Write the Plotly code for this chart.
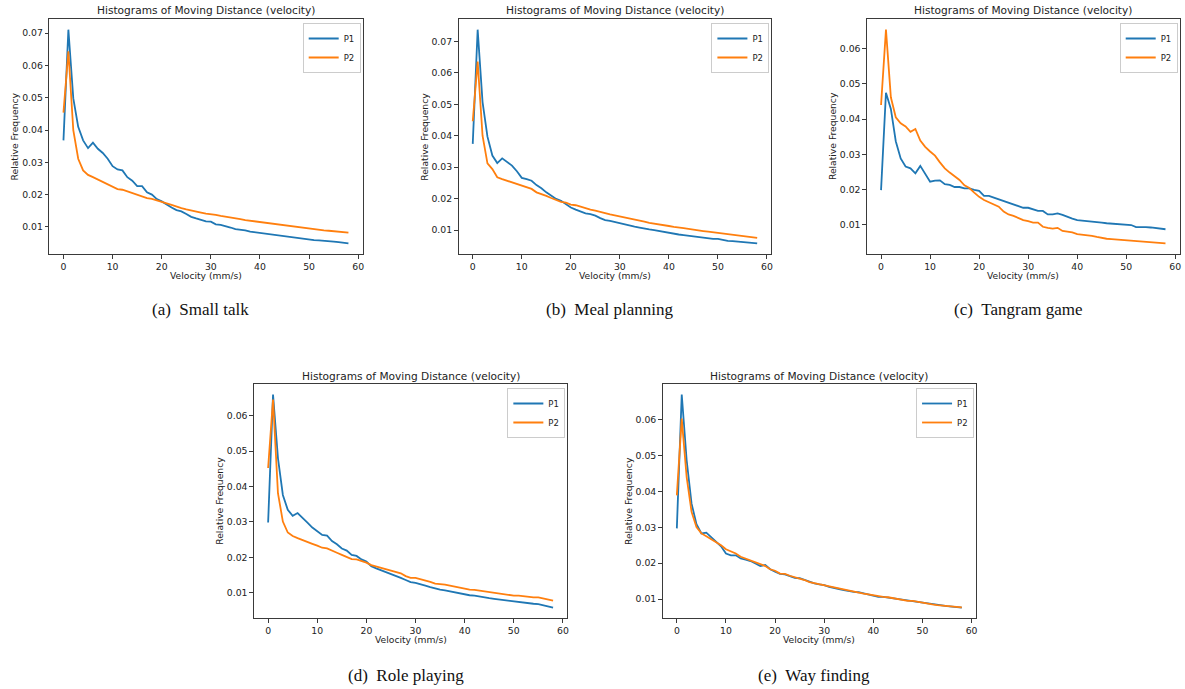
import plotly.graph_objects as go

velocity = list(range(59))

small_talk_p1 = [0.0368, 0.0711, 0.0498, 0.0410, 0.0368, 0.0344, 0.0361, 0.0342, 0.0329, 0.0311,
                 0.0288, 0.0278, 0.0275, 0.0254, 0.0243, 0.0226, 0.0226, 0.0207, 0.0200, 0.0186,
                 0.0179, 0.0169, 0.0160, 0.0152, 0.0148, 0.0140, 0.0131, 0.0126, 0.0121, 0.0117,
                 0.0116, 0.0108, 0.0106, 0.0103, 0.0098, 0.0093, 0.0092, 0.0089, 0.0085, 0.0083,
                 0.0079, 0.0077, 0.0075, 0.0074, 0.0072, 0.0071, 0.0069, 0.0066, 0.0065, 0.0063,
                 0.0060, 0.0059, 0.0058, 0.0056, 0.0055, 0.0054, 0.0053, 0.0051, 0.0049]
small_talk_p2 = [0.0454, 0.0644, 0.0400, 0.0311, 0.0275, 0.0261, 0.0254, 0.0247, 0.0240, 0.0233,
                 0.0225, 0.0217, 0.0215, 0.0210, 0.0204, 0.0198, 0.0194, 0.0189, 0.0187, 0.0183,
                 0.0177, 0.0173, 0.0168, 0.0162, 0.0158, 0.0154, 0.0150, 0.0148, 0.0144, 0.0141,
                 0.0140, 0.0137, 0.0134, 0.0132, 0.0130, 0.0127, 0.0124, 0.0121, 0.0119, 0.0116,
                 0.0114, 0.0113, 0.0111, 0.0108, 0.0105, 0.0103, 0.0101, 0.0100, 0.0098, 0.0095,
                 0.0094, 0.0093, 0.0091, 0.0089, 0.0088, 0.0086, 0.0086, 0.0084, 0.0082]

meal_p1 = [0.0374, 0.0737, 0.0507, 0.0397, 0.0337, 0.0313, 0.0328, 0.0316, 0.0305, 0.0287,
           0.0266, 0.0262, 0.0257, 0.0243, 0.0233, 0.0220, 0.0209, 0.0199, 0.0193, 0.0183,
           0.0172, 0.0165, 0.0159, 0.0153, 0.0151, 0.0146, 0.0138, 0.0132, 0.0129, 0.0125,
           0.0123, 0.0118, 0.0115, 0.0111, 0.0108, 0.0104, 0.0102, 0.0100, 0.0097, 0.0094,
           0.0090, 0.0088, 0.0086, 0.0084, 0.0082, 0.0080, 0.0078, 0.0076, 0.0073, 0.0072,
           0.0072, 0.0068, 0.0066, 0.0065, 0.0064, 0.0063, 0.0061, 0.0059, 0.0058]
meal_p2 = [0.0446, 0.0636, 0.0400, 0.0312, 0.0294, 0.0268, 0.0262, 0.0257, 0.0252, 0.0247,
           0.0241, 0.0236, 0.0231, 0.0220, 0.0215, 0.0209, 0.0202, 0.0196, 0.0190, 0.0187,
           0.0181, 0.0179, 0.0174, 0.0169, 0.0165, 0.0162, 0.0157, 0.0154, 0.0150, 0.0147,
           0.0142, 0.0139, 0.0136, 0.0133, 0.0131, 0.0127, 0.0123, 0.0121, 0.0117, 0.0116,
           0.0113, 0.0110, 0.0107, 0.0106, 0.0104, 0.0101, 0.0099, 0.0097, 0.0095, 0.0093,
           0.0090, 0.0088, 0.0085, 0.0083, 0.0082, 0.0080, 0.0078, 0.0077, 0.0075]

tangram_p1 = [0.0198, 0.0475, 0.0429, 0.0337, 0.0288, 0.0265, 0.0260, 0.0246, 0.0267, 0.0245,
              0.0222, 0.0225, 0.0226, 0.0215, 0.0213, 0.0207, 0.0207, 0.0203, 0.0203, 0.0199,
              0.0196, 0.0182, 0.0182, 0.0177, 0.0172, 0.0169, 0.0163, 0.0158, 0.0153, 0.0148,
              0.0148, 0.0144, 0.0139, 0.0139, 0.0129, 0.0129, 0.0132, 0.0128, 0.0122, 0.0117,
              0.0113, 0.0112, 0.0110, 0.0109, 0.0109, 0.0106, 0.0104, 0.0103, 0.0103, 0.0101,
              0.0099, 0.0099, 0.0093, 0.0094, 0.0093, 0.0092, 0.0090, 0.0089, 0.0087]
tangram_p2 = [0.0440, 0.0654, 0.0462, 0.0405, 0.0388, 0.0379, 0.0364, 0.0372, 0.0339, 0.0321,
              0.0308, 0.0296, 0.0277, 0.0260, 0.0248, 0.0237, 0.0227, 0.0212, 0.0204, 0.0191,
              0.0179, 0.0170, 0.0163, 0.0158, 0.0151, 0.0137, 0.0129, 0.0125, 0.0118, 0.0113,
              0.0110, 0.0106, 0.0106, 0.0094, 0.0091, 0.0089, 0.0091, 0.0082, 0.0080, 0.0078,
              0.0073, 0.0072, 0.0070, 0.0068, 0.0065, 0.0062, 0.0060, 0.0059, 0.0058, 0.0057,
              0.0056, 0.0054, 0.0054, 0.0052, 0.0050, 0.0049, 0.0048, 0.0048, 0.0047]

role_p1 = [0.0298, 0.0659, 0.0480, 0.0376, 0.0334, 0.0317, 0.0325, 0.0310, 0.0298, 0.0284,
           0.0273, 0.0263, 0.0261, 0.0246, 0.0237, 0.0225, 0.0219, 0.0207, 0.0204, 0.0194,
           0.0188, 0.0175, 0.0169, 0.0164, 0.0159, 0.0153, 0.0147, 0.0142, 0.0136, 0.0130,
           0.0128, 0.0125, 0.0120, 0.0116, 0.0112, 0.0109, 0.0107, 0.0104, 0.0101, 0.0098,
           0.0095, 0.0093, 0.0092, 0.0089, 0.0087, 0.0085, 0.0083, 0.0081, 0.0079, 0.0077,
           0.0075, 0.0074, 0.0072, 0.0070, 0.0069, 0.0068, 0.0065, 0.0062, 0.0058]
role_p2 = [0.0452, 0.0645, 0.0381, 0.0301, 0.0270, 0.0260, 0.0254, 0.0248, 0.0242, 0.0238,
           0.0233, 0.0227, 0.0225, 0.0218, 0.0213, 0.0207, 0.0200, 0.0195, 0.0194, 0.0190,
           0.0185, 0.0178, 0.0174, 0.0169, 0.0166, 0.0161, 0.0158, 0.0155, 0.0147, 0.0142,
           0.0142, 0.0139, 0.0136, 0.0131, 0.0126, 0.0125, 0.0123, 0.0120, 0.0117, 0.0114,
           0.0111, 0.0109, 0.0108, 0.0106, 0.0104, 0.0102, 0.0099, 0.0098, 0.0097, 0.0095,
           0.0092, 0.0092, 0.0090, 0.0089, 0.0087, 0.0087, 0.0084, 0.0081, 0.0078]

way_p1 = [0.0297, 0.0670, 0.0487, 0.0366, 0.0309, 0.0283, 0.0285, 0.0273, 0.0260, 0.0247,
          0.0227, 0.0222, 0.0222, 0.0213, 0.0210, 0.0206, 0.0199, 0.0192, 0.0195, 0.0183,
          0.0176, 0.0170, 0.0169, 0.0164, 0.0159, 0.0158, 0.0153, 0.0148, 0.0144, 0.0141,
          0.0139, 0.0134, 0.0132, 0.0128, 0.0125, 0.0122, 0.0120, 0.0119, 0.0116, 0.0113,
          0.0109, 0.0106, 0.0106, 0.0104, 0.0102, 0.0099, 0.0096, 0.0094, 0.0094, 0.0091,
          0.0088, 0.0086, 0.0084, 0.0082, 0.0081, 0.0080, 0.0079, 0.0078, 0.0076]
way_p2 = [0.0389, 0.0603, 0.0440, 0.0343, 0.0301, 0.0283, 0.0275, 0.0267, 0.0258, 0.0250,
          0.0239, 0.0234, 0.0227, 0.0218, 0.0213, 0.0209, 0.0202, 0.0197, 0.0192, 0.0183,
          0.0179, 0.0171, 0.0170, 0.0165, 0.0161, 0.0158, 0.0153, 0.0147, 0.0144, 0.0141,
          0.0139, 0.0134, 0.0132, 0.0129, 0.0125, 0.0122, 0.0119, 0.0118, 0.0115, 0.0113,
          0.0110, 0.0108, 0.0106, 0.0105, 0.0102, 0.0100, 0.0097, 0.0095, 0.0095, 0.0092,
          0.0089, 0.0087, 0.0085, 0.0083, 0.0082, 0.0081, 0.0079, 0.0078, 0.0077]

series_names = ["P1", "P2"]
captions = ["(a)\u2002Small talk", "(b)\u2002Meal planning", "(c)\u2002Tangram game",
            "(d)\u2002Role playing", "(e)\u2002Way finding"]
chart_title = "Histograms of Moving Distance (velocity)"
x_label = "Velocity (mm/s)"
y_label = "Relative Frequency"
x_ticks = [0, 10, 20, 30, 40, 50, 60]

panels = [
    (small_talk_p1, small_talk_p2),
    (meal_p1, meal_p2),
    (tangram_p1, tangram_p2),
    (role_p1, role_p2),
    (way_p1, way_p2),
]

W, H = 1185, 689
# axes boxes in pixels: (left, right, top, bottom)
boxes = [
    (49.3, 363.3, 19, 254),
    (459.3, 772.7, 19, 254),
    (868.3, 1181.7, 19, 254),
    (254.3, 568.3, 384, 618.3),
    (663.7, 977.7, 384, 618.3),
]
ylabel_x = [15, 425, 834, 220, 629]
caption_y = [309, 309, 309, 675, 675]

blue = "#1f77b4"
orange = "#ff7f0e"
spine = "#3a3a3a"
font_family = "DejaVu Sans"

fig = go.Figure()
layout = dict(
    width=W, height=H,
    margin=dict(l=0, r=0, t=0, b=0),
    paper_bgcolor="white", plot_bgcolor="white",
    font=dict(family=font_family, size=9, color="#222"),
    annotations=[],
)

for i, ((p1, p2), (l, r, t, b)) in enumerate(zip(panels, boxes)):
    n = i + 1
    xa = "x" if n == 1 else f"x{n}"
    ya = "y" if n == 1 else f"y{n}"
    leg = "legend" if n == 1 else f"legend{n}"
    for vals, name, col in ((p1, series_names[0], blue), (p2, series_names[1], orange)):
        fig.add_trace(go.Scatter(
            x=velocity, y=vals, mode="lines", name=name,
            line=dict(color=col, width=1.8),
            xaxis=xa, yaxis=ya, legend=leg,
        ))
    allv = list(p1) + list(p2)
    lo, hi = min(allv), max(allv)
    pad = 0.05 * (hi - lo)
    xlo, xhi = min(velocity), max(velocity)
    xpad = 0.05 * (xhi - xlo)
    axis_common = dict(
        showline=True, mirror=True, linecolor=spine, linewidth=1,
        ticks="outside", ticklen=3.5, tickwidth=1, tickcolor=spine,
        showgrid=False, zeroline=False,
        tickfont=dict(family=font_family, size=9.3, color="#222"),
    )
    layout["xaxis" if n == 1 else f"xaxis{n}"] = dict(
        domain=[l / W, r / W], anchor=ya,
        range=[xlo - xpad, xhi + xpad],
        tickmode="array", tickvals=x_ticks,
        **axis_common,
    )
    layout["yaxis" if n == 1 else f"yaxis{n}"] = dict(
        domain=[1 - b / H, 1 - t / H], anchor=xa,
        range=[lo - pad, hi + pad],
        dtick=0.01, tick0=0, tickformat=".2f",
        **axis_common,
    )
    layout[leg] = dict(
        x=(r - 2) / W, y=1 - (t + 4) / H, xanchor="right", yanchor="top",
        bgcolor="rgba(255,255,255,0.9)", bordercolor="#cccccc", borderwidth=1,
        font=dict(family=font_family, size=8.5, color="#222"),
        itemwidth=30, tracegroupgap=0,
    )
    cx = (l + r) / 2
    layout["annotations"] += [
        dict(text=chart_title, x=cx / W, y=1 - (t - 8.5) / H, xref="paper", yref="paper",
             showarrow=False, xanchor="center", yanchor="middle",
             font=dict(family=font_family, size=10.6, color="#222")),
        dict(text=x_label, x=cx / W, y=1 - (b + 21) / H, xref="paper", yref="paper",
             showarrow=False, xanchor="center", yanchor="middle",
             font=dict(family=font_family, size=9.2, color="#222")),
        dict(text=y_label, x=ylabel_x[i] / W, y=1 - ((t + b) / 2) / H, xref="paper", yref="paper",
             showarrow=False, xanchor="center", yanchor="middle", textangle=-90,
             font=dict(family=font_family, size=9.2, color="#222")),
        dict(text=captions[i], x=(cx - 5) / W, y=1 - caption_y[i] / H, xref="paper", yref="paper",
             showarrow=False, xanchor="center", yanchor="middle",
             font=dict(family="Liberation Serif", size=17, color="#111")),
    ]

fig.update_layout(**layout)
fig.write_html("out.html",
               config={"displayModeBar": False},
               post_script="document.body.style.margin='0';document.body.style.overflow='hidden';")
